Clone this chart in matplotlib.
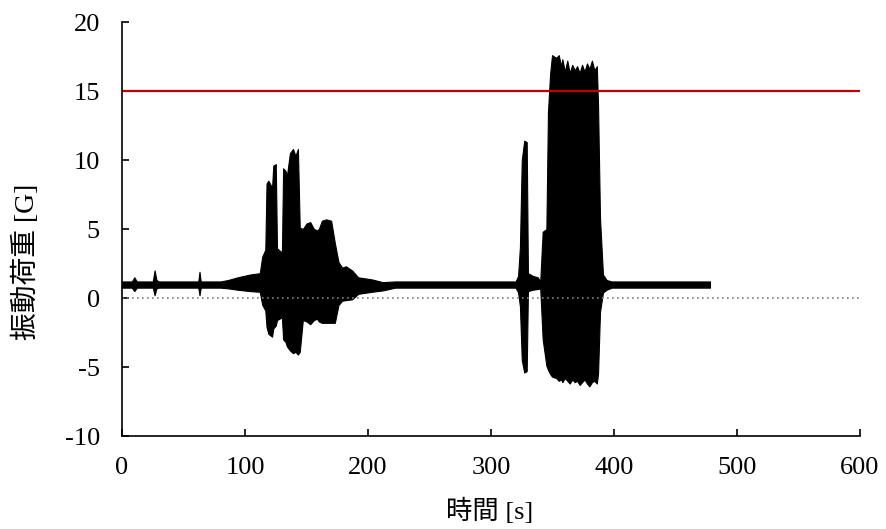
import matplotlib
matplotlib.use("Agg")
import matplotlib.pyplot as plt

# envelope of the vibration signal: time [s], upper and lower [G]
time_s = [0, 8, 10, 12, 25, 26.5, 28, 30, 62, 63, 64, 80, 86, 94, 104, 112,
          114, 116.5, 117.5, 119, 122, 123, 125, 126, 130, 131, 133, 134,
          136.5, 139, 141, 143, 144.5, 147, 150, 153, 156, 158.5, 160, 162.5,
          166, 170, 173, 176, 179, 182, 187, 192, 203, 212, 222,
          320, 322, 323.5, 325, 327, 329, 330, 334, 338, 340,
          342, 345, 346.3, 348, 349.6, 353, 355, 357, 358, 360, 362, 364,
          366, 368, 370, 372, 374, 376, 378, 380, 382, 384, 386, 387,
          388.6, 391, 394, 398, 478]
upper_g = [1.2, 1.2, 1.5, 1.2, 1.2, 2.0, 1.3, 1.2, 1.2, 1.9, 1.2, 1.2, 1.3, 1.5, 1.7, 1.8,
           3.0, 3.5, 8.3, 8.5, 8.0, 9.6, 9.7, 3.6, 3.3, 9.4, 9.2, 8.8,
           10.5, 10.8, 10.3, 10.8, 5.1, 5.0, 5.4, 5.5, 5.0, 4.9, 5.0, 5.6,
           5.7, 5.6, 4.0, 2.6, 2.2, 2.3, 2.0, 1.5, 1.35, 1.15, 1.2,
           1.2, 1.6, 3.7, 10.0, 11.4, 11.3, 1.8, 1.6, 1.5, 1.2,
           4.8, 5.0, 13.5, 16.2, 17.6, 17.4, 17.6, 16.8, 17.3, 16.4, 17.2, 16.3,
           16.9, 16.5, 16.8, 16.3, 16.9, 16.4, 17.0, 16.6, 17.2, 16.5, 16.8, 14.0,
           5.8, 1.7, 1.3, 1.2, 1.2]
lower_g = [0.75, 0.75, 0.5, 0.75, 0.75, 0.2, 0.7, 0.75, 0.75, 0.2, 0.75, 0.75, 0.7, 0.6, 0.5, 0.45,
           -0.5, -0.9, -2.1, -2.6, -2.8, -2.2, -2.0, -1.6, -1.4, -3.0, -3.2, -3.5,
           -3.8, -4.0, -3.9, -4.1, -3.9, -1.6, -1.7, -1.9, -1.6, -1.5, -1.7, -1.8,
           -1.8, -1.8, -1.8, -0.5, -0.2, -0.15, -0.1, 0.3, 0.45, 0.55, 0.75,
           0.75, 0.4, -0.6, -4.5, -5.4, -5.3, 0.5, 0.6, 0.65, 0.7,
           -3.0, -4.9, -5.2, -5.5, -5.7, -5.8, -6.0, -5.9, -6.1, -5.8, -6.0, -6.2,
           -5.9, -6.1, -6.0, -6.3, -6.1, -5.9, -6.2, -6.4, -6.1, -6.0, -6.2, -5.5,
           -1.0, 0.4, 0.6, 0.75, 0.75]

limit_g = 15
x_ticks = [0, 100, 200, 300, 400, 500, 600]
y_ticks = [-10, -5, 0, 5, 10, 15, 20]

fonts = ['Liberation Serif', 'Noto Sans CJK JP']
plt.rcParams['axes.unicode_minus'] = False

fig = plt.figure(figsize=(8.86, 5.29), dpi=100)
ax = fig.add_axes([0.1377, 0.1758, 0.8330, 0.7826])

ax.fill_between(time_s, lower_g, upper_g, color='black', edgecolor='black', linewidth=0.8)
ax.axhline(limit_g, color='#c00000', linewidth=1.6)
ax.axhline(0, color='#808080', linewidth=1.2, linestyle=(0, (1, 2)))

ax.set_xlim(0, 600)
ax.set_ylim(-10, 20)
ax.set_xticks(x_ticks)
ax.set_yticks(y_ticks)
ax.tick_params(direction='in', length=5, width=1.2)
ax.tick_params(axis='x', pad=15)
ax.tick_params(axis='y', pad=16)
for lab in ax.get_xticklabels() + ax.get_yticklabels():
    lab.set_family(fonts)
    lab.set_fontsize(19)
for side in ['top', 'right']:
    ax.spines[side].set_visible(False)
for side in ['left', 'bottom']:
    ax.spines[side].set_linewidth(1.2)

ax.set_xlabel('時間 [s]', family=fonts, fontsize=19, va='center')
ax.xaxis.set_label_coords(0.4986, -0.181)
ax.set_ylabel('振動荷重 [G]', family=fonts, fontsize=20, va='center')
ax.yaxis.set_label_coords(-0.130, 0.42)

fig.savefig('out.png', dpi=100)
